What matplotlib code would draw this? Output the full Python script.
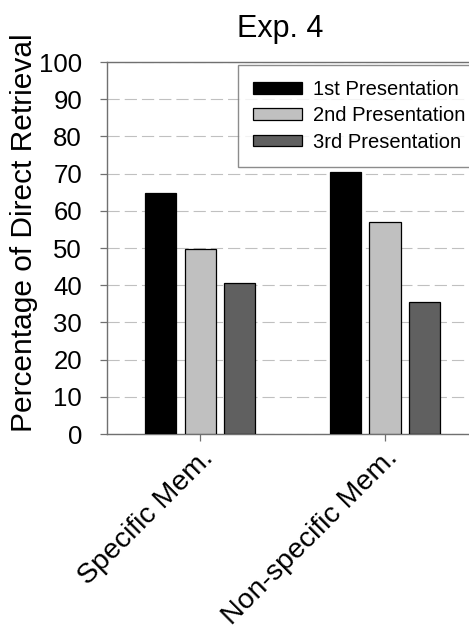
import matplotlib
matplotlib.use("Agg")
import matplotlib.pyplot as plt
import numpy as np

categories = ["Specific Mem.", "Non-specific Mem."]
series_names = ["1st Presentation", "2nd Presentation", "3rd Presentation"]
first = [64.7, 70.4]
second = [49.6, 57.0]
third = [40.5, 35.6]
yticks = [0, 10, 20, 30, 40, 50, 60, 70, 80, 90, 100]

plt.rcParams['font.family'] = ['Liberation Sans', 'DejaVu Sans']

W, H = 469, 641
fig = plt.figure(figsize=(W / 100, H / 100), dpi=100)
left, right, top, bottom = 107, 477.5, 62, 434
ax = fig.add_axes([left / W, 1 - bottom / H, (right - left) / W, (bottom - top) / H])

x = np.arange(len(categories))
width = 0.168
step = 0.2135
colors = ["#000000", "#c0c0c0", "#606060"]
for i, (vals, name) in enumerate(zip([first, second, third], series_names)):
    ax.bar(x + (i - 1) * step, vals, width, color=colors[i], edgecolor="black",
           linewidth=0.9, label=name, zorder=3)

ax.set_xlim(-0.503, 1.5)
ax.set_ylim(0, 100)
ax.set_yticks(yticks)
ax.set_yticklabels([str(t) for t in yticks], fontsize=18.5)
ax.set_xticks(x)
ax.set_xticklabels(categories, fontsize=20.5, rotation=45, ha="right", va="top",
                   rotation_mode="anchor")
for lbl in ax.get_xticklabels():
    lbl.set_transform(lbl.get_transform() + matplotlib.transforms.ScaledTranslation(5 / 100, -4 / 100, fig.dpi_scale_trans))

ax.yaxis.grid(True, linestyle=(0, (11, 4.5)), color="#c0c0c0", linewidth=0.8, zorder=0)
ax.set_axisbelow(True)
for s in ["left", "bottom", "top"]:
    ax.spines[s].set_color("#707070")
    ax.spines[s].set_linewidth(1.0)
ax.spines["right"].set_visible(False)
ax.tick_params(axis="both", direction="out", length=5, color="#707070", width=0.9)
ax.tick_params(axis="y", pad=13)
ax.tick_params(axis="x", pad=3)

ax.set_ylabel("Percentage of Direct Retrieval", fontsize=21.5)
ax.yaxis.set_label_coords(-0.185, 0.54)
ax.set_title("Exp. 4", fontsize=22, x=0.467, pad=18)

leg = ax.legend(loc="upper left", bbox_to_anchor=(0.354, 0.992), borderaxespad=0,
                fontsize=14.5, frameon=True, fancybox=False, handlelength=2.4,
                handleheight=0.5, labelspacing=0.36, handletextpad=0.55,
                borderpad=0.75)
leg.get_frame().set_edgecolor("#707070")
leg.get_frame().set_linewidth(1.0)

fig.savefig("out.png", dpi=100)
